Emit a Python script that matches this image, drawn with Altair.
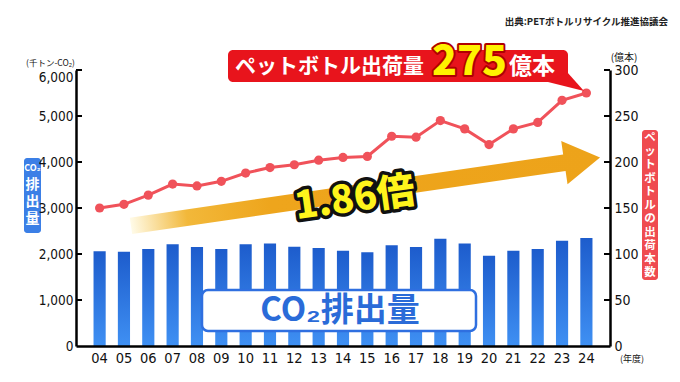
import altair as alt
import pandas as pd

# ---- data ----
years = ["04", "05", "06", "07", "08", "09", "10", "11", "12", "13", "14",
         "15", "16", "17", "18", "19", "20", "21", "22", "23", "24"]
co2 = [2060, 2050, 2110, 2210, 2150, 2110, 2210, 2230, 2160, 2130, 2070,
       2040, 2190, 2150, 2330, 2230, 1960, 2070, 2110, 2290, 2350]
bottles = [150, 154, 164, 176, 174, 179, 188, 194, 197, 202, 205,
           206, 228, 227, 245, 236, 219, 236, 243, 267, 275]
left_axis_values = [0, 1000, 2000, 3000, 4000, 5000, 6000]
right_axis_values = [0, 50, 100, 150, 200, 250, 300]
tick_marks = [1000, 2000, 3000, 4000, 5000, 6000]
left_label_chars = ["排", "出", "量"]
right_label_chars = ["ペ", "ッ", "ト", "ボ", "ト", "ル", "の", "出", "荷", "本", "数"]

df = pd.DataFrame({"year": years, "co2": co2, "bottles": bottles})
ticks_df = pd.DataFrame({"v": tick_marks})
one = pd.DataFrame({"a": [0]})

W, H = 534, 276
COND = "'DejaVu Sans Condensed', 'Roboto', sans-serif"
JP = "'Noto Sans CJK JP', sans-serif"
RED = "#f0525a"
BLUE = "#2a6bd8"

xenc = alt.X("year:N", sort=years,
             scale=alt.Scale(paddingInner=0.5, paddingOuter=0.72),
             axis=alt.Axis(title=None, labelAngle=0, ticks=False, domainColor="#000",
                           domainWidth=2.5, labelFont=COND, labelFontSize=14.5,
                           labelColor="#111", labelPadding=5, zindex=1))

left_scale = alt.Scale(domain=[0, 6000], nice=False, zero=True)
left_axis = alt.Axis(title=None, values=left_axis_values, format=",.0f", ticks=False,
                     grid=False, domainColor="#000", domainWidth=2.5, labelFont=COND,
                     labelFontSize=13.5, labelColor="#111", labelPadding=3, zindex=1,
                     labelBaseline=alt.ExprRef("datum.value == 6000 ? 'top' : 'middle'"))
right_axis = alt.Axis(title=None, orient="right", values=right_axis_values, ticks=False,
                      grid=False, domainColor="#000", domainWidth=2.5, labelFont=COND,
                      labelFontSize=14, labelColor="#111", labelPadding=4, zindex=1)

bar_grad = alt.Gradient(gradient="linear",
                        stops=[alt.GradientStop(color="#1d5ccc", offset=0),
                               alt.GradientStop(color="#3f90f3", offset=1)],
                        x1=0, x2=0, y1=0, y2=1)

bars = alt.Chart(df).mark_bar(color=bar_grad).encode(
    x=xenc, y=alt.Y("co2:Q", scale=left_scale, axis=left_axis))
ticks_l = alt.Chart(ticks_df).mark_rule(color="#000", strokeWidth=2).encode(
    y=alt.Y("v:Q", scale=left_scale, axis=left_axis), x=alt.value(0), x2=alt.value(6))
ticks_r = alt.Chart(ticks_df).mark_rule(color="#000", strokeWidth=2).encode(
    y=alt.Y("v:Q", scale=left_scale, axis=left_axis), x=alt.value(W - 6), x2=alt.value(W))
left = alt.layer(bars, ticks_l, ticks_r)

line = alt.Chart(df).mark_line(
    color=RED, strokeWidth=3,
    point=alt.OverlayMarkDef(filled=True, size=85, color=RED, opacity=1)).encode(
    x=xenc, y=alt.Y("bottles:Q", scale=alt.Scale(domain=[0, 300], nice=False), axis=right_axis))


def txt(x, y, s, **kw):
    return alt.Chart(one).mark_text(**kw).encode(x=alt.value(x), y=alt.value(y), text=alt.value(s))


def rect(x, x2, y, y2, **kw):
    return alt.Chart(one).mark_rect(**kw).encode(
        x=alt.value(x), x2=alt.value(x2), y=alt.value(y), y2=alt.value(y2))


# orange arrow (custom symbol)
arrow_grad = alt.Gradient(gradient="linear",
                          stops=[alt.GradientStop(color="#fffbe8", offset=0),
                                 alt.GradientStop(color="#f2b83a", offset=0.12),
                                 alt.GradientStop(color="#eea51c", offset=0.3),
                                 alt.GradientStop(color="#eda31a", offset=1)],
                          x1=0, x2=1, y1=0, y2=0)
arrow_path = ("M -1 -0.035 L 0.848 -0.035 L 0.848 -0.092 L 1 0 "
              "L 0.848 0.092 L 0.848 0.035 L -1 0.035 Z")
arrow = alt.Chart(one).mark_point(shape=arrow_path, size=474 ** 2, filled=True, opacity=1,
                                  color=arrow_grad, strokeWidth=0, angle=351.7).encode(
    x=alt.value(289.5), y=alt.value(121.7))

ratio_stroke = txt(279, 130, "1.86倍", font=JP, fontSize=38, fontWeight=900, angle=352,
                   align="center", baseline="middle", stroke="#111", strokeWidth=7,
                   fill="#111", strokeJoin="round")
ratio_fill = txt(279, 130, "1.86倍", font=JP, fontSize=38, fontWeight=900, angle=352,
                 align="center", baseline="middle", color="#fff41c")

# CO2 box
co2_box = rect(126, 400, 220, 261, fill="white", stroke="#2f6fe0", strokeWidth=2.5,
               cornerRadius=6)
co2_text = txt(264, 241, "CO₂排出量", font=JP, fontSize=33, fontWeight="bold",
               align="center", baseline="middle", color=BLUE)

# red banner
banner = rect(152, 492, -20, 12, fill="#e8141c", cornerRadius=5)
pointer = alt.Chart(one).mark_point(shape="M -0.95 0 L 0 -0.5 L 0.85 0.45 Z", size=1600,
                                    filled=True, opacity=1, color="#e8141c",
                                    strokeWidth=0).encode(x=alt.value(491), y=alt.value(12))
b1 = txt(159, -3, "ペットボトル出荷量", font=JP, fontSize=21, fontWeight="bold",
         align="left", baseline="middle", color="white")
b2s = txt(356, -7, "275", font=JP, fontSize=41, fontWeight=900, align="left",
          baseline="middle", stroke="#b00000", strokeWidth=4, fill="#b00000",
          strokeJoin="round")
b2 = txt(356, -7, "275", font=JP, fontSize=41, fontWeight=900, align="left",
         baseline="middle", color="#fff200")
b3 = txt(433, -3, "億本", font=JP, fontSize=23, fontWeight="bold", align="left",
         baseline="middle", color="white")

# side labels (vertical text, one character per mark)
lbox = rect(-52, -35, 88, 163, fill="#3b7fe6", cornerRadius=3)
side = [lbox,
        txt(-43.5, 98, "CO₂", font=JP, fontSize=9, fontWeight="bold", align="center",
            baseline="middle", color="white")]
for i, ch in enumerate(left_label_chars):
    side.append(txt(-43.5, 115 + 17 * i, ch, font=JP, fontSize=14, fontWeight="bold",
                    align="center", baseline="middle", color="white"))
rbox = rect(566, 582, 60, 210, fill="#ef4b50", cornerRadius=3)
side.append(rbox)
for i, ch in enumerate(right_label_chars):
    side.append(txt(574, 68 + 13.5 * i, ch, font=JP, fontSize=11.5, fontWeight="bold",
                    align="center", baseline="middle", color="white"))

unit_l = txt(-1, -7, "(千トン-CO₂)", font=JP, fontSize=8.5, align="right",
             baseline="middle", color="#111")
unit_r = txt(548, -12, "(億本)", font=JP, fontSize=10, align="center",
             baseline="middle", color="#111")
unit_x = txt(556, 289, "(年度)", font=JP, fontSize=9, align="center",
             baseline="middle", color="#111")
source = txt(592, -48, "出典:PETボトルリサイクル推進協議会", font=JP, fontSize=9.5,
             fontWeight="bold", align="right", baseline="middle", color="#222")

chart = alt.layer(
    left, arrow, line, ratio_stroke, ratio_fill, co2_box, co2_text,
    banner, pointer, b1, b2s, b2, b3, *side,
    unit_l, unit_r, unit_x, source
).resolve_scale(y="independent").properties(
    width=W, height=H,
    padding={"left": 68, "top": 62, "right": 62, "bottom": 28},
    autosize=alt.AutoSizeParams(type="none"),
    background="white"
).configure_view(stroke=None)

chart.save("out.html", embed_options={"renderer": "svg", "actions": False})
